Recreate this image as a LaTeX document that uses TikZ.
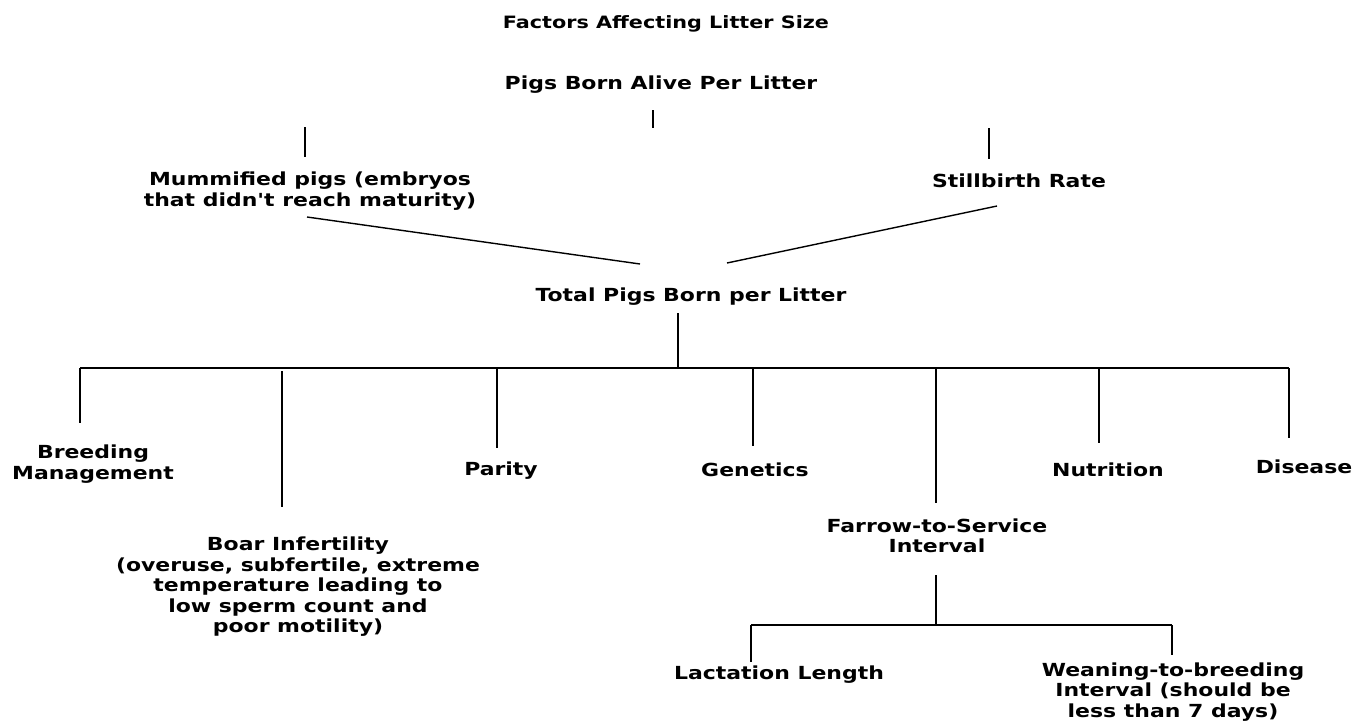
\documentclass[tikz,border=0pt]{standalone}
\usepackage{fontspec}
\newfontfamily\vfont[FakeStretch=1.22]{DejaVu Sans}
\usepackage{tikz}
\usetikzlibrary{arrows}

\newcommand{\lbl}{\vfont\bfseries\fontsize{18}{20.5}\selectfont}

\begin{document}
\begin{tikzpicture}[x=1pt, y=-1pt, line width=1.4pt,
	every node/.style={font=\lbl, align=center, inner sep=0pt}]
	\useasboundingbox (0, 0) rectangle (1369, 723);
	\node [font=\vfont\bfseries\fontsize{17}{20}\selectfont] (title) at (666, 24) {Factors Affecting Litter Size};
	\node (alive) at (661, 85) {Pigs Born Alive Per Litter};
	\node (mummy) at (310, 191) {Mummified pigs (embryos\\that didn't reach maturity)};
	\node (still) at (1019, 181) {Stillbirth Rate};
	\node (total) at (691, 297) {Total Pigs Born per Litter};
	\node (breed) at (93, 464) {Breeding\\Management};
	\node (boar) at (298, 587) {Boar Infertility\\(overuse, subfertile, extreme\\temperature leading to\\low sperm count and\\poor motility)};
	\node (parity) at (501, 471) {Parity};
	\node (gen) at (755, 470) {Genetics};
	\node (farrow) at (937, 536) {Farrow-to-Service\\Interval};
	\node (nutr) at (1108, 470) {Nutrition};
	\node (dis) at (1304, 467) {Disease};
	\node (lact) at (779, 675) {Lactation Length};
	\node (wean) at (1173, 692) {Weaning-to-breeding\\Interval (should be\\less than 7 days)};
	% loose ends of the lines
	\coordinate (a0) at (653, 110);
	\coordinate (a1) at (653, 128);
	\coordinate (m0) at (305, 127);
	\coordinate (m1) at (305, 157);
	\coordinate (s0) at (989, 128);
	\coordinate (s1) at (989, 159);
	\coordinate (m2) at (307, 217);
	\coordinate (s2) at (997, 206);
	\coordinate (t1) at (640, 264);
	\coordinate (t2) at (727, 263);
	\coordinate (t3) at (678, 313);
	\coordinate (bar) at (678, 368);
	\coordinate (bl) at (80, 368);
	\coordinate (br) at (1289, 368);
	\coordinate (b1) at (80, 423);
	\coordinate (b2a) at (282, 371);
	\coordinate (b2) at (282, 507);
	\coordinate (b3a) at (497, 368);
	\coordinate (b3) at (497, 448);
	\coordinate (b4a) at (753, 368);
	\coordinate (b4) at (753, 446);
	\coordinate (b5a) at (936, 368);
	\coordinate (b5) at (936, 503);
	\coordinate (b6a) at (1099, 368);
	\coordinate (b6) at (1099, 443);
	\coordinate (b7) at (1289, 438);
	\coordinate (f0) at (936, 575);
	\coordinate (sub) at (936, 625);
	\coordinate (sl) at (751, 625);
	\coordinate (sr) at (1172, 625);
	\coordinate (c1) at (751, 662);
	\coordinate (c2) at (1172, 655);
	\draw (a0) to (a1);
	\draw (m0) to (m1);
	\draw (s0) to (s1);
	\draw (m2) to (t1);
	\draw (s2) to (t2);
	\draw (t3) to (bar);
	\draw (bl) to (br);
	\draw (bl) to (b1);
	\draw (b2a) to (b2);
	\draw (b3a) to (b3);
	\draw (b4a) to (b4);
	\draw (b5a) to (b5);
	\draw (b6a) to (b6);
	\draw (br) to (b7);
	\draw (f0) to (sub);
	\draw (sl) to (sr);
	\draw (sl) to (c1);
	\draw (sr) to (c2);
\end{tikzpicture}
\end{document}
